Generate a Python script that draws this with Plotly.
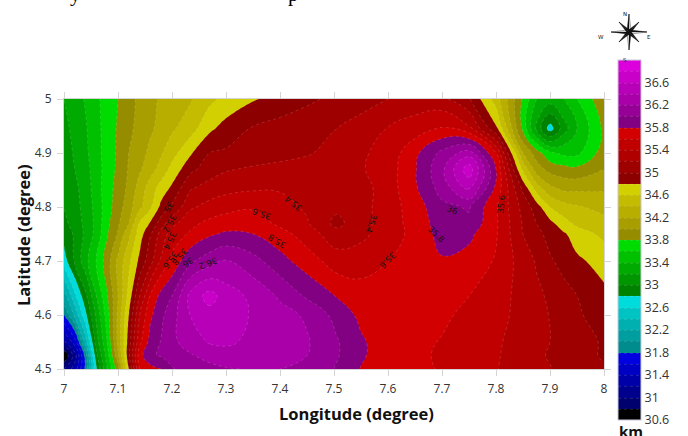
import plotly.graph_objects as go

lon = [7.0,7.02,7.04,7.06,7.08,7.1,7.12,7.14,7.16,7.18,7.2,7.235,7.27,7.3,7.35,7.4,7.45,7.505,7.55,7.6,7.65,7.7,7.75,7.8,7.85,7.875,7.9,7.925,7.95,8.0]
lat = [4.5,4.525,4.55,4.6,4.635,4.7,4.75,4.77,4.8,4.835,4.87,4.9,4.945,5.0]

depth = [
 [31.0,31.3,31.85,32.78,33.4,33.9,34.8,35.6,35.72,35.8,35.99,36.06,36.13,36.18,36.22,36.2,36.17,35.98,35.79,35.69,35.63,35.59,35.5,35.41,35.3,35.24,35.21,35.15,35.1,35.02],
 [30.61,31.1,31.9,32.95,33.5,34.15,34.95,35.72,35.97,36.02,36.08,36.18,36.28,36.33,36.32,36.26,36.2,36.02,35.83,35.68,35.63,35.58,35.5,35.42,35.3,35.24,35.18,35.13,35.07,34.98],
 [31.15,31.5,32.3,33.1,33.6,34.25,34.9,35.55,35.88,36.01,36.15,36.3,36.42,36.43,36.36,36.27,36.22,36.02,35.83,35.68,35.64,35.59,35.52,35.43,35.31,35.25,35.2,35.13,35.07,34.98],
 [31.8,32.25,32.75,33.25,33.7,34.25,34.8,35.4,35.76,35.95,36.12,36.41,36.52,36.5,36.38,36.27,36.17,35.93,35.75,35.68,35.66,35.63,35.56,35.47,35.33,35.27,35.19,35.1,35.03,34.9],
 [32.1,32.55,32.95,33.4,33.78,34.2,34.68,35.2,35.62,35.87,36.0,36.47,36.68,36.5,36.35,36.17,35.97,35.79,35.67,35.7,35.7,35.67,35.6,35.5,35.32,35.24,35.17,35.08,35.0,34.85],
 [32.7,33.03,33.33,33.63,33.9,34.25,34.55,34.85,35.13,35.43,35.65,35.97,36.11,36.21,36.07,35.87,35.7,35.5,35.53,35.6,35.72,35.78,35.72,35.58,35.3,35.18,35.03,34.93,34.84,34.72],
 [32.88,33.03,33.25,33.47,33.78,34.02,34.35,34.7,34.98,35.28,35.5,35.63,35.77,35.83,35.8,35.68,35.5,35.28,35.34,35.52,35.65,35.88,35.85,35.62,35.2,35.07,34.92,34.83,34.7,34.55],
 [32.95,33.08,33.26,33.46,33.75,33.97,34.2,34.62,34.82,35.1,35.33,35.55,35.65,35.7,35.72,35.55,35.42,35.14,35.33,35.5,35.68,35.9,35.96,35.63,35.18,35.0,34.86,34.68,34.55,34.46],
 [33.0,33.12,33.28,33.47,33.72,33.9,34.12,34.35,34.57,34.86,35.03,35.37,35.47,35.53,35.57,35.47,35.37,35.25,35.33,35.5,35.7,35.95,36.02,35.63,35.13,34.9,34.6,34.48,34.42,34.34],
 [33.05,33.15,33.3,33.5,33.72,33.87,34.05,34.28,34.5,34.68,34.84,35.18,35.28,35.33,35.37,35.38,35.33,35.28,35.32,35.5,35.77,36.08,36.45,35.75,34.95,34.5,34.25,34.15,34.15,34.17],
 [33.1,33.2,33.33,33.5,33.7,33.84,34.02,34.17,34.32,34.48,34.66,34.95,35.1,35.18,35.23,35.27,35.29,35.31,35.38,35.5,35.78,36.15,36.72,35.8,34.55,34.1,33.93,33.88,33.85,34.0],
 [33.12,33.22,33.36,33.52,33.7,33.83,34.0,34.12,34.25,34.38,34.52,34.78,35.0,35.03,35.08,35.12,35.18,35.27,35.37,35.47,35.75,36.05,36.3,35.6,34.2,33.9,33.65,33.55,33.55,33.9],
 [33.15,33.25,33.38,33.53,33.7,33.82,33.95,34.07,34.17,34.26,34.37,34.52,34.76,34.88,35.02,35.08,35.13,35.2,35.28,35.41,35.5,35.63,35.45,34.85,33.75,33.15,32.7,33.1,33.4,33.85],
 [33.2,33.3,33.42,33.55,33.7,33.8,33.92,34.05,34.15,34.23,34.28,34.38,34.55,34.65,34.78,34.87,34.96,35.05,35.12,35.2,35.28,35.25,35.02,34.5,33.77,33.4,33.3,33.4,33.6,33.95],
]

band_colors = [
 "#000000",
 "#00006e","#00008c","#0000a8","#0000c4","#0000e0",
 "#008c8c","#009e9e","#00b0b0","#00c4c4","#00dcdc",
 "#008200","#009600","#00aa00","#00c000","#00dc00",
 "#968c00","#a89e00","#b8ae00","#c4bc00","#d2d000",
 "#8c0000","#9e0000","#b00000","#c00000","#d20000",
 "#820082","#960096","#aa00aa","#b800b8","#c800c8","#dc00dc",
]
level_start, level_end, level_step = 30.6, 37.0, 0.2
bar_ticks = [30.6,31,31.4,31.8,32.2,32.6,33,33.4,33.8,34.2,34.6,35,35.4,35.8,36.2,36.6]

contour_labels = [
 ("35",7.193,4.801,120),("35.2",7.196,4.769,118),("35.4",7.196,4.737,115),("35.6",7.197,4.702,125),
 ("35.8",7.215,4.708,130),("36",7.23,4.698,145),("36.2",7.267,4.696,160),
 ("35.4",7.425,4.807,218),("35.6",7.366,4.788,199),("35.8",7.394,4.737,211),
 ("35.4",7.569,4.77,108),("35.6",7.6,4.702,135),("36",7.72,4.795,20),("35.8",7.689,4.75,45),("35.6",7.809,4.806,-85),
]

xticks = [7,7.1,7.2,7.3,7.4,7.5,7.6,7.7,7.8,7.9,8]
yticks = [4.5,4.6,4.7,4.8,4.9,5]

W, H = 688, 436
L, R, T, B = 64, 84, 99, 67
PW, PH = W-L-R, H-T-B
px = lambda x: (x-L)/PW
py = lambda y: (H-B-y)/PH

# plotly paints a band at the colour of its upper level, so the steps sit half a band higher
stops = []
n = len(band_colors)
for i, c in enumerate(band_colors):
    lo = 0 if i == 0 else (i+0.5)/n
    hi = 1 if i == n-1 else (i+1.5)/n
    stops += [[lo, c], [hi, c]]

font = "Open Sans"
fig = go.Figure(go.Contour(
    x=lon, y=lat, z=depth, zmin=level_start, zmax=level_end,
    colorscale=stops, autocontour=False,
    contours=dict(start=level_start, end=level_end, size=level_step, coloring="fill", showlines=True),
    line=dict(color="rgba(255,255,255,0.25)", width=0.6, dash="dot", smoothing=1.3),
    colorbar=dict(
        x=px(618), xanchor="left", y=py(60), yanchor="top", len=360, lenmode="pixels",
        thickness=23, thicknessmode="pixels", tickmode="array", tickvals=bar_ticks,
        ticktext=[f"{v:g}" for v in bar_ticks], ticks="", xpad=0, ypad=0,
        outlinecolor="#c8c8d8", outlinewidth=1, tickfont=dict(family=font, size=12.5, color="#333"),
    ),
    hoverinfo="skip",
))

ann = [dict(text=t, x=x, y=y, xref="x", yref="y", textangle=a, showarrow=False,
            font=dict(family="DejaVu Sans", size=8.5, color="#151515")) for t, x, y, a in contour_labels]
ann += [
 dict(text="<b>km</b>", x=px(631), y=py(431), xref="paper", yref="paper", showarrow=False,
      font=dict(family=font, size=15, color="#111"), xanchor="center", yanchor="middle"),
 dict(text="<b>Longitude (degree)</b>", x=px(356), y=py(413), xref="paper", yref="paper", showarrow=False,
      font=dict(family=font, size=16.5, color="#111"), xanchor="center", yanchor="middle"),
 dict(text="<b>Latitude (degree)</b>", x=px(23), y=py(235), xref="paper", yref="paper", showarrow=False, textangle=-90,
      font=dict(family=font, size=16.5, color="#111"), xanchor="center", yanchor="middle"),
 dict(text="y", x=px(68), y=py(-20), xref="paper", yref="paper", showarrow=False,
      font=dict(family="Liberation Serif", size=21, color="#000")),
 dict(text="p", x=px(293), y=py(-20), xref="paper", yref="paper", showarrow=False,
      font=dict(family="Liberation Serif", size=21, color="#000")),
]
for t, x, y in [("N",629,9),("S",629,55),("W",606,32),("E",653,32)]:
    ann.append(dict(text=t, x=px(x), y=py(y), xref="paper", yref="paper", showarrow=False,
                    font=dict(family="DejaVu Sans", size=5.5, color="#111")))

cx, cy = 629, 32
def star(points, fill):
    d = "M" + " L".join(f"{px(cx+a)},{py(cy+b)}" for a, b in points) + " Z"
    return dict(type="path", xref="paper", yref="paper", path=d, fillcolor=fill, line=dict(color="#111", width=0.4), layer="above")
shapes = []
long_arm, short_arm, w = 18, 10, 2.2
for ax, ay in [(0,-1),(0,1),(1,0),(-1,0)]:
    tip = (ax*long_arm, ay*long_arm)
    shapes.append(star([tip, (ay*w, -ax*w), (0,0)], "#111"))
    shapes.append(star([tip, (-ay*w, ax*w), (0,0)], "#fff"))
for ax, ay in [(1,1),(1,-1),(-1,1),(-1,-1)]:
    tip = (ax*short_arm, ay*short_arm)
    shapes.append(star([tip, (ax*2.2, -ay*0.2), (0,0)], "#111"))
    shapes.append(star([tip, (-ax*0.2, ay*2.2), (0,0)], "#111"))

axis_common = dict(showgrid=False, zeroline=False, ticks="outside", ticklen=6, tickcolor="#d4d4d4",
                   tickwidth=1, showline=True, linecolor="#d4d4d4", linewidth=1, mirror="ticks",
                   ticklabelstandoff=3, tickfont=dict(family=font, size=12, color="#333"))
fig.update_layout(
    width=W, height=H, margin=dict(l=L, r=R, t=T, b=B, autoexpand=False),
    paper_bgcolor="white", plot_bgcolor="white", annotations=ann, shapes=shapes,
    xaxis=dict(range=[7,8], tickvals=xticks, ticktext=[f"{v:g}" for v in xticks], tickangle=0, **axis_common),
    yaxis=dict(range=[4.5,5], tickvals=yticks, ticktext=[f"{v:g}" for v in yticks], **axis_common),
)
fig.write_html("out.html", post_script="document.body.style.margin='0';", config={"displayModeBar": False})
